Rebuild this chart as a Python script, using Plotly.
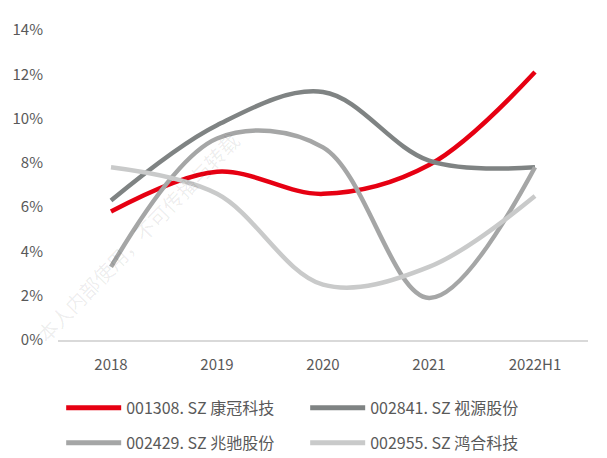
import plotly.graph_objects as go

categories = ["2018", "2019", "2020", "2021", "2022H1"]
names = ["001308.SZ 康冠科技", "002841.SZ 视源股份", "002429.SZ 兆驰股份", "002955.SZ 鸿合科技"]
s_kangguan = [0.058, 0.076, 0.066, 0.079, 0.121]
s_shiyuan = [0.063, 0.097, 0.112, 0.081, 0.078]
s_zhaochi = [0.033, 0.091, 0.087, 0.019, 0.078]
s_honghe = [0.078, 0.066, 0.025, 0.033, 0.065]
y_ticks = [0, 0.02, 0.04, 0.06, 0.08, 0.10, 0.12, 0.14]

colors = ["#E60012", "#7F8383", "#A5A6A6", "#C9CACA"]
series = [s_kangguan, s_shiyuan, s_zhaochi, s_honghe]
display_names = ["001308. SZ 康冠科技", "002841. SZ 视源股份", "002429. SZ 兆驰股份", "002955. SZ 鸿合科技"]
legend_ids = ["legend", "legend", "legend2", "legend2"]

fig = go.Figure()
for nm, vals, c, lg in zip(display_names, series, colors, legend_ids):
    fig.add_trace(go.Scatter(
        x=categories, y=vals, name=nm, mode="lines", legend=lg,
        line=dict(color=c, width=4.5, shape="spline", smoothing=1.0),
    ))

font_family = "Noto Sans CJK SC, Noto Sans, sans-serif"
legend_common = dict(
    orientation="h", x=0.006, xanchor="left", yanchor="middle",
    entrywidth=174, entrywidthmode="pixels", itemwidth=55,
    font=dict(size=16, color="#595959", family=font_family),
    tracegroupgap=0, itemsizing="constant", bgcolor="rgba(0,0,0,0)",
)

fig.update_layout(
    width=607, height=458,
    margin=dict(l=58, r=19, t=30, b=118, autoexpand=False),
    paper_bgcolor="white", plot_bgcolor="white",
    font=dict(family=font_family, size=15, color="#595959"),
    showlegend=True,
    legend=dict(y=-0.219, **legend_common),
    legend2=dict(y=-0.332, **legend_common),
    xaxis=dict(
        type="category", range=[-0.5, 4.5], showgrid=False, zeroline=False,
        showline=True, linecolor="#D9D9D9", linewidth=1.5,
        ticks="", tickfont=dict(size=15, color="#595959"),
        ticklabelstandoff=10,
    ),
    yaxis=dict(
        range=[0, 0.14], tickvals=y_ticks, tickformat=".0%",
        showgrid=False, zeroline=False, showline=False,
        tickfont=dict(size=15, color="#595959"), ticks="",
        ticklabelstandoff=14,
    ),
)

fig.add_annotation(
    text="本人内部使用，不可传播与转载", xref="paper", yref="paper",
    x=0.15, y=0.33, xanchor="center", yanchor="middle",
    showarrow=False, textangle=-46,
    font=dict(size=20, color="rgba(0,0,0,0.08)", family=font_family),
)

fig.write_html("out.html")
